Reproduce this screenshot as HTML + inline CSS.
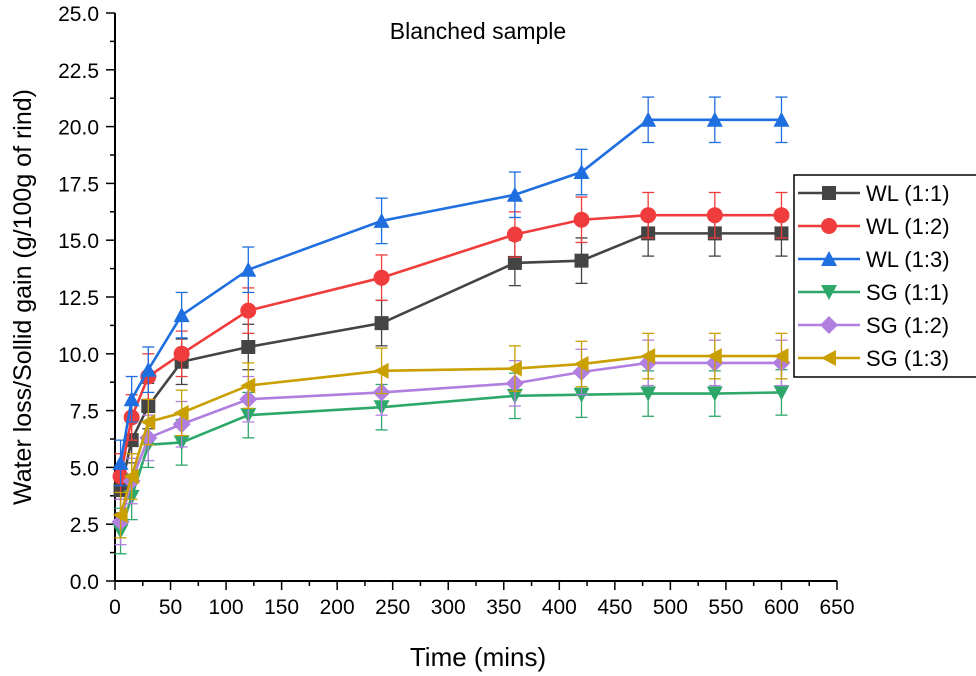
<!DOCTYPE html>
<html><head><meta charset="utf-8"><style>
body{margin:0;background:#fff;}
svg{display:block;font-family:"Liberation Sans",Arial,sans-serif;}
</style></head><body>
<svg id="chart" width="976" height="676" viewBox="0 0 976 676">
<text x="478" y="39" font-size="23" text-anchor="middle">Blanched sample</text>
<text x="478" y="666" font-size="26" text-anchor="middle">Time (mins)</text>
<text transform="translate(31,297) rotate(-90)" font-size="25" text-anchor="middle">Water loss/Sollid gain (g/100g of rind)</text>
<g id="axes"></g>
<g id="series"></g>
<g id="legend"></g>
</svg>
<script>
const times=[5,15,30,60,120,240,360,420,480,540,600];
const wl11=[4.0,6.2,7.7,9.65,10.3,11.35,14.0,14.1,15.3,15.3,15.3];
const wl12=[4.6,7.2,9.0,10.0,11.9,13.35,15.25,15.9,16.1,16.1,16.1];
const wl13=[5.2,8.0,9.3,11.7,13.7,15.85,17.0,18.0,20.3,20.3,20.3];
const sg11=[2.2,3.7,6.0,6.1,7.3,7.65,8.15,8.2,8.25,8.25,8.3];
const sg12=[2.6,4.4,6.3,6.9,8.0,8.3,8.7,9.2,9.6,9.6,9.6];
const sg13=[2.9,4.6,7.0,7.4,8.6,9.25,9.35,9.55,9.9,9.9,9.9];
const errAll=[1.0,1.0,1.0,1.0,1.0,1.0,1.0,1.0,1.0,1.0,1.0];
const xTicks=[0,50,100,150,200,250,300,350,400,450,500,550,600,650];
const yTicks=[0,2.5,5,7.5,10,12.5,15,17.5,20,22.5,25];
const seriesNames=["WL (1:1)","WL (1:2)","WL (1:3)","SG (1:1)","SG (1:2)","SG (1:3)"];
const NS="http://www.w3.org/2000/svg";
const X=v=>115+v*(837-115)/650;
const Y=v=>581-v*(581-13)/25;
function mk(tag,attrs,parent){const e=document.createElementNS(NS,tag);for(const k in attrs)e.setAttribute(k,attrs[k]);parent.appendChild(e);return e;}
const axes=document.getElementById('axes');
let a=mk('line',{x1:115,y1:581,x2:837,y2:581,stroke:'#000','stroke-width':2},axes);


a=mk('line',{x1:115,y1:13,x2:115,y2:581,stroke:'#000','stroke-width':2},axes);


xTicks.forEach((t,i)=>{
 mk('line',{x1:X(t),y1:581,x2:X(t),y2:590,stroke:'#000','stroke-width':1.5},axes);
 if(i<xTicks.length-1) mk('line',{x1:X(t+25),y1:581,x2:X(t+25),y2:586,stroke:'#000','stroke-width':1.5},axes);
 const tx=mk('text',{x:X(t),y:614,'font-size':21,'text-anchor':'middle'},axes);tx.textContent=t;
 
 
});
yTicks.forEach((t,i)=>{
 mk('line',{x1:106,y1:Y(t),x2:115,y2:Y(t),stroke:'#000','stroke-width':1.5},axes);
 if(i<yTicks.length-1) mk('line',{x1:110,y1:Y(t+1.25),x2:115,y2:Y(t+1.25),stroke:'#000','stroke-width':1.5},axes);
 const tx=mk('text',{x:99,y:Y(t)+8,'font-size':21,'text-anchor':'end'},axes);tx.textContent=t.toFixed(1);
 
 
});
const colors=['#444444','#f03c3c','#1f6fe0','#2ea86a','#b07fe0','#c9a000'];
const shapes=['sq','ci','up','dn','di','lt'];
const data=[wl11,wl12,wl13,sg11,sg12,sg13];
function marker(shape,x,y,c,p,s){
 s=s||7;
 if(shape==='sq')return mk('rect',{x:x-s,y:y-s,width:2*s,height:2*s,fill:c},p);
 if(shape==='ci')return mk('circle',{cx:x,cy:y,r:s+1,fill:c},p);
 let pts;
 if(shape==='up')pts=[[x,y-s-1],[x+s+1,y+s],[x-s-1,y+s]];
 if(shape==='dn')pts=[[x,y+s+1],[x+s+1,y-s],[x-s-1,y-s]];
 if(shape==='di')pts=[[x,y-s-2],[x+s+2,y],[x,y+s+2],[x-s-2,y]];
 if(shape==='lt')pts=[[x-s-1,y],[x+s,y-s-1],[x+s,y+s+1]];
 return mk('polygon',{points:pts.map(q=>q.join(',')).join(' '),fill:c},p);
}
const sg=document.getElementById('series');
data.forEach((arr,si)=>{
 const g=mk('g',{},sg);
 
 
 const c=colors[si];
 arr.forEach((v,i)=>{
  const x=X(times[i]),e=errAll[i];
  mk('line',{x1:x,y1:Y(v-e),x2:x,y2:Y(v+e),stroke:c,'stroke-width':1.3},g);
  mk('line',{x1:x-6,y1:Y(v-e),x2:x+6,y2:Y(v-e),stroke:c,'stroke-width':1.3},g);
  mk('line',{x1:x-6,y1:Y(v+e),x2:x+6,y2:Y(v+e),stroke:c,'stroke-width':1.3},g);
 });
 mk('polyline',{points:arr.map((v,i)=>X(times[i])+','+Y(v)).join(' '),fill:'none',stroke:c,'stroke-width':2.6},g);
 arr.forEach((v,i)=>{
  const m=marker(shapes[si],X(times[i]),Y(v),c,g);
  
  
 });
});
const lg=document.getElementById('legend');


mk('rect',{x:794,y:175,width:190,height:202,fill:'#fff',stroke:'#000','stroke-width':1.5},lg);
seriesNames.forEach((n,i)=>{
 const y=193+i*33;
 const g=mk('g',{},lg);
 
 
 mk('line',{x1:798,y1:y,x2:860,y2:y,stroke:colors[i],'stroke-width':2.6},g);
 marker(shapes[i],829,y,colors[i],g);
 const t=mk('text',{x:866,y:y+8,'font-size':22},g);t.textContent=n;
});
</script>
</body></html>
